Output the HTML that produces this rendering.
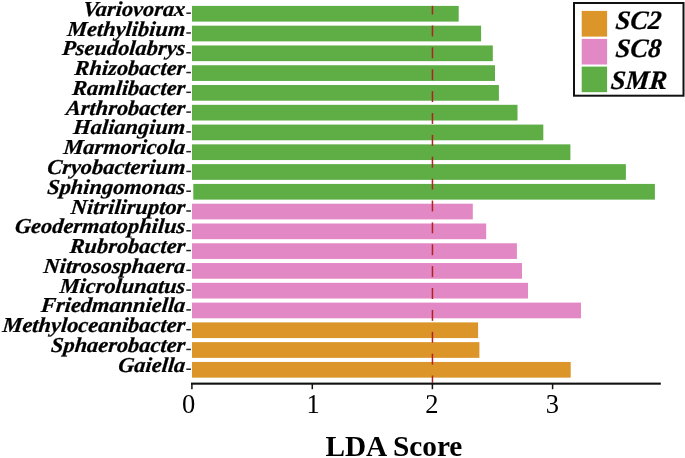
<!DOCTYPE html>
<html><head><meta charset="utf-8"><style>
html,body{margin:0;padding:0;background:#fff;width:685px;height:458px;overflow:hidden}
svg{display:block;will-change:transform}
.lb{font-family:"Liberation Serif",serif;font-weight:bold;font-style:italic;font-size:22.4px;text-anchor:end;fill:#000;stroke:#000;stroke-width:0.25px}
.tl{font-family:"Liberation Serif",serif;font-size:26.5px;text-anchor:middle;fill:#000}
.ax{font-family:"Liberation Serif",serif;font-weight:bold;font-size:29.3px;text-anchor:middle;fill:#000}
.lg{font-family:"Liberation Serif",serif;font-weight:bold;font-style:italic;font-size:26.6px;fill:#000;stroke:#000;stroke-width:0.25px}
</style></head><body>
<svg width="685" height="458" viewBox="0 0 685 458">
<rect width="685" height="458" fill="#fff"/>
<rect x="192.0" y="5.90" width="266.70" height="15.7" fill="#5EAD45"/>
<rect x="186.3" y="12.45" width="4.6" height="1.5" fill="#222"/>
<text transform="translate(184.8 15.75) scale(1 0.95) skewX(-5)" class="lb">Variovorax</text>
<rect x="192.0" y="25.68" width="289.10" height="15.7" fill="#5EAD45"/>
<rect x="186.3" y="32.23" width="4.6" height="1.5" fill="#222"/>
<text transform="translate(184.8 35.53) scale(1 0.95) skewX(-5)" class="lb">Methylibium</text>
<rect x="192.0" y="45.46" width="300.80" height="15.7" fill="#5EAD45"/>
<rect x="186.3" y="52.01" width="4.6" height="1.5" fill="#222"/>
<text transform="translate(184.8 55.31) scale(1 0.95) skewX(-5)" class="lb">Pseudolabrys</text>
<rect x="192.0" y="65.24" width="303.00" height="15.7" fill="#5EAD45"/>
<rect x="186.3" y="71.79" width="4.6" height="1.5" fill="#222"/>
<text transform="translate(184.8 75.09) scale(1 0.95) skewX(-5)" class="lb">Rhizobacter</text>
<rect x="192.0" y="85.02" width="306.90" height="15.7" fill="#5EAD45"/>
<rect x="186.3" y="91.57" width="4.6" height="1.5" fill="#222"/>
<text transform="translate(184.8 94.87) scale(1 0.95) skewX(-5)" class="lb">Ramlibacter</text>
<rect x="192.0" y="104.80" width="325.50" height="15.7" fill="#5EAD45"/>
<rect x="186.3" y="111.35" width="4.6" height="1.5" fill="#222"/>
<text transform="translate(184.8 114.65) scale(1 0.95) skewX(-5)" class="lb">Arthrobacter</text>
<rect x="192.0" y="124.58" width="351.30" height="15.7" fill="#5EAD45"/>
<rect x="186.3" y="131.13" width="4.6" height="1.5" fill="#222"/>
<text transform="translate(184.8 134.43) scale(1 0.95) skewX(-5)" class="lb">Haliangium</text>
<rect x="192.0" y="144.36" width="378.40" height="15.7" fill="#5EAD45"/>
<rect x="186.3" y="150.91" width="4.6" height="1.5" fill="#222"/>
<text transform="translate(184.8 154.21) scale(1 0.95) skewX(-5)" class="lb">Marmoricola</text>
<rect x="192.0" y="164.14" width="433.90" height="15.7" fill="#5EAD45"/>
<rect x="186.3" y="170.69" width="4.6" height="1.5" fill="#222"/>
<text transform="translate(184.8 173.99) scale(1 0.95) skewX(-5)" class="lb">Cryobacterium</text>
<rect x="193.3" y="183.92" width="461.60" height="15.7" fill="#5EAD45"/>
<rect x="186.3" y="190.47" width="4.6" height="1.5" fill="#222"/>
<text transform="translate(184.8 193.77) scale(1 0.95) skewX(-5)" class="lb">Sphingomonas</text>
<rect x="192.0" y="203.70" width="280.80" height="15.7" fill="#E288C5"/>
<rect x="186.3" y="210.25" width="4.6" height="1.5" fill="#222"/>
<text transform="translate(184.8 213.55) scale(1 0.95) skewX(-5)" class="lb">Nitriliruptor</text>
<rect x="192.0" y="223.48" width="294.20" height="15.7" fill="#E288C5"/>
<rect x="186.3" y="230.03" width="4.6" height="1.5" fill="#222"/>
<text transform="translate(184.8 233.33) scale(1 0.95) skewX(-5)" class="lb">Geodermatophilus</text>
<rect x="192.0" y="243.26" width="324.90" height="15.7" fill="#E288C5"/>
<rect x="186.3" y="249.81" width="4.6" height="1.5" fill="#222"/>
<text transform="translate(184.8 253.11) scale(1 0.95) skewX(-5)" class="lb">Rubrobacter</text>
<rect x="192.0" y="263.04" width="330.00" height="15.7" fill="#E288C5"/>
<rect x="186.3" y="269.59" width="4.6" height="1.5" fill="#222"/>
<text transform="translate(184.8 272.89) scale(1 0.95) skewX(-5)" class="lb">Nitrososphaera</text>
<rect x="192.0" y="282.82" width="336.00" height="15.7" fill="#E288C5"/>
<rect x="186.3" y="289.37" width="4.6" height="1.5" fill="#222"/>
<text transform="translate(184.8 292.67) scale(1 0.95) skewX(-5)" class="lb">Microlunatus</text>
<rect x="192.0" y="302.60" width="389.00" height="15.7" fill="#E288C5"/>
<rect x="186.3" y="309.15" width="4.6" height="1.5" fill="#222"/>
<text transform="translate(184.8 312.45) scale(1 0.95) skewX(-5)" class="lb">Friedmanniella</text>
<rect x="192.0" y="322.38" width="286.10" height="15.7" fill="#DB9529"/>
<rect x="186.3" y="328.93" width="4.6" height="1.5" fill="#222"/>
<text transform="translate(184.8 332.23) scale(1 0.95) skewX(-5)" class="lb">Methyloceanibacter</text>
<rect x="192.0" y="342.16" width="287.40" height="15.7" fill="#DB9529"/>
<rect x="186.3" y="348.71" width="4.6" height="1.5" fill="#222"/>
<text transform="translate(184.8 352.01) scale(1 0.95) skewX(-5)" class="lb">Sphaerobacter</text>
<rect x="192.0" y="361.94" width="378.70" height="15.7" fill="#DB9529"/>
<rect x="186.3" y="368.49" width="4.6" height="1.5" fill="#222"/>
<text transform="translate(184.8 371.79) scale(1 0.95) skewX(-5)" class="lb">Gaiella</text>
<rect x="431.7" y="5.90" width="1.5" height="8.62" fill="#B22222"/>
<rect x="431.7" y="25.50" width="1.5" height="10.90" fill="#B22222"/>
<rect x="431.7" y="47.38" width="1.5" height="10.90" fill="#B22222"/>
<rect x="431.7" y="69.26" width="1.5" height="10.90" fill="#B22222"/>
<rect x="431.7" y="91.14" width="1.5" height="10.90" fill="#B22222"/>
<rect x="431.7" y="113.02" width="1.5" height="10.90" fill="#B22222"/>
<rect x="431.7" y="134.90" width="1.5" height="10.90" fill="#B22222"/>
<rect x="431.7" y="156.78" width="1.5" height="10.90" fill="#B22222"/>
<rect x="431.7" y="178.66" width="1.5" height="10.90" fill="#B22222"/>
<rect x="431.7" y="200.54" width="1.5" height="10.90" fill="#B22222"/>
<rect x="431.7" y="222.42" width="1.5" height="10.90" fill="#B22222"/>
<rect x="431.7" y="244.30" width="1.5" height="10.90" fill="#B22222"/>
<rect x="431.7" y="266.18" width="1.5" height="10.90" fill="#B22222"/>
<rect x="431.7" y="288.06" width="1.5" height="10.90" fill="#B22222"/>
<rect x="431.7" y="309.94" width="1.5" height="10.90" fill="#B22222"/>
<rect x="431.7" y="331.82" width="1.5" height="10.90" fill="#B22222"/>
<rect x="431.7" y="353.70" width="1.5" height="10.90" fill="#B22222"/>
<rect x="431.7" y="375.58" width="1.5" height="7.22" fill="#B22222"/>
<rect x="191" y="382.6" width="469.8" height="2.1" fill="#111"/>
<rect x="191.15" y="383" width="1.5" height="6.2" fill="#111"/>
<text x="188.7" y="413" class="tl">0</text>
<rect x="311.55" y="383" width="1.5" height="6.2" fill="#111"/>
<text x="313.0" y="413" class="tl">1</text>
<rect x="431.65" y="383" width="1.5" height="6.2" fill="#111"/>
<text x="431.8" y="413" class="tl">2</text>
<rect x="551.85" y="383" width="1.5" height="6.2" fill="#111"/>
<text x="552.4" y="413" class="tl">3</text>
<text x="393.9" y="456.2" class="ax">LDA Score</text>
<rect x="574" y="3" width="109.5" height="92.7" fill="#fff" stroke="#111" stroke-width="2"/>
<rect x="581.7" y="10.9" width="25.4" height="25.7" fill="#DB9529"/>
<rect x="581.7" y="38.9" width="25.4" height="25.6" fill="#E288C5"/>
<rect x="581.7" y="66.6" width="25.4" height="25.6" fill="#5EAD45"/>
<text transform="translate(615.0 29.2) skewX(-5)" class="lg">SC2</text>
<text transform="translate(615.0 56.5) skewX(-5)" class="lg">SC8</text>
<text transform="translate(610.3 88.5) skewX(-5)" class="lg">SMR</text>
</svg>
</body></html>
